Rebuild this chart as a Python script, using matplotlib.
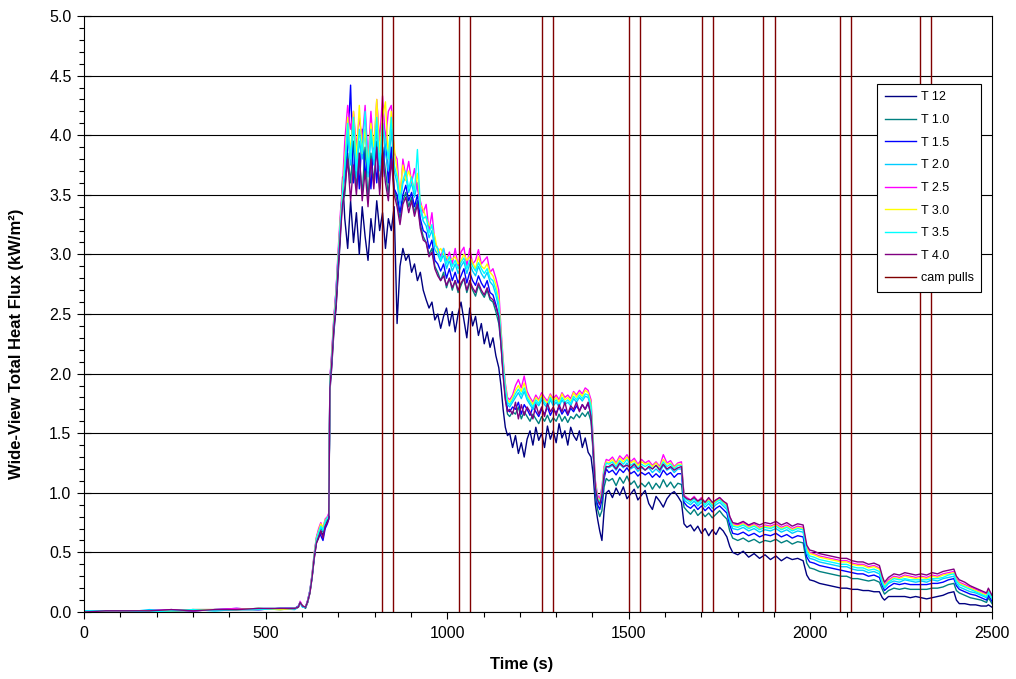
import matplotlib

matplotlib.use("Agg")
import matplotlib.pyplot as plt
from matplotlib.ticker import FormatStrFormatter, MultipleLocator

plt.rcParams["font.family"] = ["Liberation Sans", "DejaVu Sans"]

# sample times (s)
time_s = [
    0, 60, 120, 180, 240, 300, 360, 420, 480, 540, 580,
    590, 595, 602, 610, 616, 622, 628, 634, 640, 646, 652, 658, 664, 670, 674,
    677, 682, 688, 694, 700, 706, 712,
    718, 726, 734, 742, 750, 758, 766, 774, 782, 790, 798, 806, 814, 822, 830, 838, 846, 854,
    862, 870, 878, 886, 894, 902, 910, 918, 926, 934, 942, 950, 958, 966, 974, 982, 990, 998,
    1006, 1014, 1022, 1030, 1038, 1046, 1054, 1062, 1070, 1078, 1086, 1094, 1102, 1110, 1118,
    1126, 1134, 1142,
    1148, 1154, 1160, 1166,
    1172, 1180, 1188, 1196, 1204, 1212, 1220, 1228, 1236, 1244, 1252, 1260, 1268, 1276, 1284,
    1292, 1300, 1308, 1316, 1324, 1332, 1340, 1348, 1356, 1364, 1372, 1380, 1388, 1396,
    1402, 1408, 1414, 1420, 1426, 1432, 1438,
    1445, 1455, 1465, 1475, 1485, 1495, 1505, 1515, 1525, 1535, 1545, 1555, 1565, 1575, 1585,
    1595, 1605, 1615, 1625, 1635, 1645,
    1652, 1660, 1670, 1680, 1690, 1700, 1710, 1720, 1730, 1740, 1750, 1760, 1770,
    1778, 1786, 1800, 1815, 1830, 1845, 1860, 1875, 1890, 1905, 1920, 1935, 1950, 1965, 1980,
    1990, 1998, 2010, 2025, 2040, 2055, 2070, 2085, 2100, 2115, 2130, 2145, 2160, 2175, 2190,
    2198, 2204, 2215, 2230, 2245, 2260, 2275, 2290, 2305, 2320, 2335, 2350, 2365, 2380, 2395,
    2402, 2410, 2425, 2440, 2455, 2470, 2485, 2490, 2500,
]

t12 = [
    0.00, 0.01, 0.00, 0.01, 0.01, 0.02, 0.02, 0.02, 0.02, 0.03, 0.03,
    0.04, 0.08, 0.05, 0.04, 0.08, 0.16, 0.29, 0.45, 0.58, 0.62, 0.68, 0.64, 0.72, 0.76, 0.79,
    1.85, 2.05, 2.35, 2.55, 2.85, 3.15, 3.65,
    3.30, 3.05, 3.45, 3.10, 3.35, 3.00, 3.40, 3.15, 2.95, 3.30, 3.10, 3.45, 3.20, 3.35, 3.05, 3.30,
    3.20, 3.40, 2.42, 2.90, 3.05, 2.95, 3.00, 2.85, 2.92, 2.78, 2.85, 2.70, 2.62, 2.55, 2.60, 2.45,
    2.50, 2.38, 2.48, 2.55, 2.40, 2.52, 2.35, 2.50, 2.60, 2.45, 2.30, 2.55, 2.40, 2.48, 2.32, 2.42,
    2.25, 2.35, 2.22, 2.30, 2.15, 2.05,
    1.90, 1.70, 1.55, 1.48,
    1.50, 1.38, 1.48, 1.33, 1.42, 1.30, 1.45, 1.52, 1.40, 1.55, 1.44, 1.50, 1.38, 1.56, 1.45,
    1.52, 1.42, 1.58, 1.46, 1.52, 1.40, 1.55, 1.48, 1.44, 1.52, 1.38, 1.46, 1.34, 1.30,
    1.15, 0.90, 0.78, 0.68, 0.60, 0.85, 1.00,
    1.02, 0.96, 1.04, 0.98, 1.05, 0.95, 0.99, 1.03, 0.94, 0.98, 1.02, 0.91, 0.86, 0.97, 0.93,
    0.88, 0.95, 0.99, 1.01, 0.97, 0.92,
    0.74, 0.71, 0.73, 0.68, 0.72, 0.66, 0.70, 0.64, 0.69, 0.65, 0.71, 0.68, 0.63,
    0.55, 0.50, 0.48, 0.51, 0.46, 0.49, 0.45, 0.48, 0.44, 0.47, 0.43, 0.46, 0.44, 0.45, 0.43,
    0.31, 0.27, 0.26, 0.24, 0.23, 0.22, 0.21, 0.20, 0.20, 0.19, 0.19, 0.18, 0.18, 0.17, 0.17,
    0.12, 0.10, 0.13, 0.13, 0.13, 0.13, 0.12, 0.13, 0.12, 0.11, 0.12, 0.13, 0.14, 0.16, 0.17,
    0.10, 0.07, 0.07, 0.06, 0.06, 0.05, 0.05, 0.06, 0.04,
]

t10 = [
    0.01, 0.00, 0.01, 0.00, 0.01, 0.01, 0.02, 0.02, 0.03, 0.02, 0.03,
    0.04, 0.07, 0.05, 0.03, 0.09, 0.17, 0.30, 0.47, 0.60, 0.65, 0.71, 0.67, 0.75, 0.78, 0.80,
    1.90, 2.12, 2.40, 2.60, 2.92, 3.22, 3.45,
    3.50, 3.85, 3.60, 3.95, 3.55, 3.80, 3.50, 3.90, 3.45, 3.85, 3.60, 3.95, 3.55, 3.90, 3.70, 3.50,
    3.85, 3.55, 3.45, 3.30, 3.45, 3.52, 3.40, 3.48, 3.35, 3.45, 3.25, 3.15, 3.10, 3.00, 3.05, 2.90,
    2.85, 2.78, 2.85, 2.72, 2.80, 2.70, 2.78, 2.68, 2.74, 2.80, 2.68, 2.76, 2.70, 2.65, 2.74, 2.68,
    2.64, 2.70, 2.62, 2.60, 2.52, 2.42,
    2.25, 2.00, 1.80, 1.66,
    1.64, 1.68, 1.66, 1.72, 1.62, 1.68, 1.64, 1.60, 1.66, 1.62, 1.58, 1.64, 1.60, 1.65, 1.59,
    1.63, 1.60, 1.66, 1.60, 1.64, 1.59, 1.64, 1.62, 1.66, 1.63, 1.67, 1.64, 1.68, 1.60,
    1.32, 0.98, 0.86, 0.80, 0.85, 1.05, 1.12,
    1.10, 1.12, 1.06, 1.13, 1.08, 1.14, 1.07, 1.10, 1.04, 1.08, 1.05, 1.09, 1.03, 1.08, 1.04,
    1.11, 1.05, 1.09, 1.04, 1.08, 1.07,
    0.88, 0.85, 0.82, 0.86, 0.81, 0.84, 0.80, 0.83, 0.79, 0.82, 0.85, 0.81, 0.78,
    0.68, 0.62, 0.60, 0.62, 0.59, 0.61, 0.58, 0.60, 0.59, 0.61, 0.58, 0.60, 0.57, 0.59, 0.58,
    0.41, 0.37, 0.36, 0.34, 0.33, 0.32, 0.31, 0.30, 0.30, 0.28, 0.28, 0.27, 0.26, 0.27, 0.25,
    0.19, 0.15, 0.18, 0.20, 0.19, 0.20, 0.19, 0.19, 0.19, 0.19, 0.20, 0.20, 0.21, 0.23, 0.24,
    0.18, 0.16, 0.14, 0.12, 0.11, 0.10, 0.08, 0.12, 0.07,
]

t15 = [
    0.00, 0.01, 0.01, 0.00, 0.02, 0.01, 0.02, 0.03, 0.02, 0.03, 0.03,
    0.05, 0.08, 0.04, 0.04, 0.10, 0.18, 0.31, 0.48, 0.62, 0.68, 0.64, 0.60, 0.70, 0.74, 0.78,
    1.95, 2.15, 2.45, 2.70, 3.00, 3.30, 3.55,
    3.65, 3.90, 4.42, 3.60, 3.95, 3.55, 4.05, 3.65, 3.85, 3.55, 3.95, 3.60, 3.90, 3.65, 4.00, 3.60,
    3.90, 3.55, 3.50, 3.35, 3.50, 3.58, 3.45, 3.52, 3.40, 3.50, 3.30, 3.20, 3.18, 3.05, 3.12, 2.95,
    2.92, 2.86, 2.92, 2.80, 2.88, 2.78, 2.85, 2.76, 2.82, 2.88, 2.76, 2.85, 2.78, 2.74, 2.82, 2.76,
    2.72, 2.78, 2.68, 2.66, 2.58, 2.48,
    2.28, 2.02, 1.83, 1.70,
    1.68, 1.72, 1.70, 1.76, 1.66, 1.74, 1.70, 1.65, 1.72, 1.68, 1.64, 1.70, 1.66, 1.72, 1.65,
    1.70, 1.67, 1.72, 1.66, 1.70, 1.65, 1.71, 1.68, 1.73, 1.69, 1.74, 1.70, 1.75, 1.66,
    1.35, 1.02, 0.90, 0.86, 0.94, 1.12, 1.20,
    1.17, 1.19, 1.15, 1.20, 1.17, 1.21, 1.16, 1.18, 1.14, 1.17, 1.15, 1.17, 1.13, 1.16, 1.13,
    1.19, 1.15, 1.17, 1.13, 1.16, 1.16,
    0.92, 0.89, 0.87, 0.90, 0.86, 0.89, 0.85, 0.88, 0.84, 0.87, 0.89, 0.86, 0.83,
    0.73, 0.66, 0.65, 0.67, 0.64, 0.66, 0.63, 0.65, 0.64, 0.66, 0.63, 0.65, 0.62, 0.64, 0.63,
    0.46, 0.42, 0.41, 0.39, 0.38, 0.37, 0.36, 0.35, 0.34, 0.33, 0.32, 0.32, 0.30, 0.31, 0.29,
    0.22, 0.18, 0.21, 0.24, 0.23, 0.24, 0.23, 0.23, 0.23, 0.23, 0.24, 0.24, 0.25, 0.27, 0.28,
    0.22, 0.19, 0.17, 0.15, 0.14, 0.12, 0.10, 0.14, 0.09,
]

t20 = [
    0.01, 0.01, 0.00, 0.02, 0.01, 0.02, 0.01, 0.02, 0.03, 0.03, 0.02,
    0.04, 0.08, 0.05, 0.04, 0.09, 0.18, 0.30, 0.48, 0.61, 0.66, 0.72, 0.68, 0.76, 0.79, 0.82,
    1.92, 2.10, 2.42, 2.64, 2.96, 3.26, 3.52,
    3.70, 4.00, 3.75, 4.10, 3.65, 3.95, 3.80, 4.05, 3.65, 4.00, 3.75, 4.05, 3.70, 4.10, 3.85, 3.70,
    4.05, 3.70, 3.60, 3.42, 3.60, 3.65, 3.52, 3.60, 3.48, 3.60, 3.38, 3.28, 3.24, 3.14, 3.20, 3.04,
    3.00, 2.94, 3.00, 2.88, 2.95, 2.86, 2.92, 2.84, 2.90, 2.94, 2.84, 2.92, 2.86, 2.82, 2.90, 2.84,
    2.80, 2.85, 2.77, 2.74, 2.66, 2.55,
    2.30, 2.05, 1.86, 1.74,
    1.72, 1.76, 1.80, 1.84, 1.79, 1.85, 1.78, 1.74, 1.70, 1.76, 1.73, 1.78, 1.74, 1.71, 1.78,
    1.73, 1.76, 1.72, 1.78, 1.74, 1.76, 1.73, 1.79, 1.76, 1.80, 1.77, 1.81, 1.80, 1.71,
    1.38, 1.05, 0.93, 0.90, 0.98, 1.16, 1.22,
    1.21, 1.23, 1.19, 1.24, 1.21, 1.25, 1.20, 1.22, 1.18, 1.21, 1.19, 1.21, 1.17, 1.20, 1.17,
    1.23, 1.19, 1.21, 1.17, 1.20, 1.20,
    0.94, 0.92, 0.90, 0.93, 0.89, 0.92, 0.88, 0.91, 0.87, 0.90, 0.92, 0.89, 0.86,
    0.76, 0.70, 0.69, 0.71, 0.68, 0.70, 0.67, 0.69, 0.68, 0.70, 0.67, 0.69, 0.66, 0.68, 0.67,
    0.49, 0.45, 0.44, 0.42, 0.41, 0.40, 0.39, 0.38, 0.38, 0.36, 0.35, 0.35, 0.33, 0.34, 0.32,
    0.24, 0.20, 0.24, 0.26, 0.25, 0.27, 0.26, 0.25, 0.26, 0.25, 0.27, 0.26, 0.28, 0.29, 0.30,
    0.24, 0.21, 0.19, 0.17, 0.16, 0.14, 0.12, 0.16, 0.11,
]

t25 = [
    0.01, 0.00, 0.01, 0.01, 0.02, 0.01, 0.02, 0.03, 0.02, 0.03, 0.03,
    0.04, 0.09, 0.05, 0.04, 0.10, 0.18, 0.32, 0.50, 0.63, 0.70, 0.75, 0.70, 0.78, 0.80, 0.83,
    1.95, 2.18, 2.48, 2.70, 3.05, 3.35, 3.60,
    3.95, 4.25, 4.05, 4.20, 3.90, 4.15, 3.95, 4.25, 3.80, 4.20, 3.85, 4.30, 3.95, 4.33, 3.95, 4.20,
    4.25, 3.85, 3.80, 3.45, 3.80, 3.65, 3.78, 3.60, 3.72, 3.55, 3.45, 3.35, 3.42, 3.20, 3.35, 3.10,
    3.05, 2.98, 3.05, 2.95, 3.02, 2.92, 3.05, 2.90, 3.02, 3.06, 2.90, 3.05, 2.92, 2.95, 3.04, 2.92,
    2.95, 2.98, 2.85, 2.88, 2.80, 2.70,
    2.38, 2.12, 1.92, 1.80,
    1.78, 1.82, 1.90, 1.95, 1.88, 1.98, 1.85, 1.80, 1.76, 1.82, 1.78, 1.84, 1.80, 1.77, 1.83,
    1.79, 1.82, 1.78, 1.84, 1.80, 1.82, 1.79, 1.85, 1.82, 1.86, 1.83, 1.88, 1.86, 1.78,
    1.45, 1.10, 0.98, 0.95, 1.05, 1.22, 1.28,
    1.27, 1.30, 1.25, 1.31, 1.28, 1.32, 1.26, 1.29, 1.24, 1.28, 1.25, 1.27, 1.23, 1.26, 1.22,
    1.32, 1.25, 1.27, 1.22, 1.25, 1.26,
    0.98, 0.96, 0.94, 0.97, 0.93, 0.96, 0.92, 0.95, 0.91, 0.94, 0.96, 0.93, 0.90,
    0.80, 0.74, 0.73, 0.75, 0.72, 0.74, 0.71, 0.73, 0.72, 0.74, 0.71, 0.73, 0.70, 0.72, 0.71,
    0.54, 0.50, 0.49, 0.47, 0.46, 0.45, 0.44, 0.43, 0.43, 0.41, 0.40, 0.40, 0.38, 0.39, 0.37,
    0.28, 0.23, 0.27, 0.30, 0.29, 0.31, 0.30, 0.29, 0.30, 0.29, 0.31, 0.30, 0.32, 0.33, 0.34,
    0.28, 0.25, 0.23, 0.21, 0.19, 0.17, 0.15, 0.19, 0.13,
]

t30 = [
    0.00, 0.01, 0.01, 0.01, 0.01, 0.02, 0.02, 0.02, 0.03, 0.02, 0.03,
    0.04, 0.08, 0.05, 0.04, 0.09, 0.17, 0.31, 0.49, 0.62, 0.68, 0.74, 0.71, 0.77, 0.79, 0.81,
    1.93, 2.14, 2.45, 2.66, 3.00, 3.30, 3.55,
    3.80, 4.15, 3.85, 4.20, 3.80, 4.25, 3.85, 4.05, 3.75, 4.10, 3.90, 4.30, 3.85, 4.15, 4.28, 3.80,
    4.20, 3.90, 3.70, 3.50, 3.75, 3.62, 3.70, 3.62, 3.55, 3.68, 3.42, 3.38, 3.30, 3.25, 3.22, 3.15,
    3.02, 3.05, 3.00, 2.98, 2.95, 2.96, 2.98, 2.92, 2.95, 3.00, 2.95, 2.98, 2.93, 2.88, 2.98, 2.90,
    2.88, 2.92, 2.85, 2.82, 2.75, 2.62,
    2.35, 2.10, 1.90, 1.78,
    1.76, 1.80, 1.86, 1.90, 1.85, 1.92, 1.82, 1.78, 1.74, 1.80, 1.77, 1.82, 1.78, 1.75, 1.82,
    1.77, 1.80, 1.76, 1.83, 1.78, 1.80, 1.77, 1.84, 1.80, 1.84, 1.81, 1.86, 1.84, 1.75,
    1.42, 1.08, 0.96, 0.93, 1.02, 1.20, 1.26,
    1.25, 1.28, 1.24, 1.29, 1.26, 1.30, 1.25, 1.27, 1.23, 1.26, 1.24, 1.25, 1.22, 1.25, 1.21,
    1.28, 1.24, 1.25, 1.21, 1.24, 1.24,
    0.97, 0.95, 0.93, 0.96, 0.92, 0.95, 0.91, 0.94, 0.90, 0.93, 0.95, 0.92, 0.89,
    0.79, 0.73, 0.72, 0.74, 0.71, 0.73, 0.70, 0.72, 0.71, 0.73, 0.70, 0.72, 0.69, 0.71, 0.70,
    0.53, 0.49, 0.48, 0.46, 0.45, 0.44, 0.43, 0.42, 0.42, 0.40, 0.39, 0.39, 0.37, 0.38, 0.36,
    0.27, 0.22, 0.26, 0.29, 0.28, 0.30, 0.29, 0.28, 0.29, 0.28, 0.30, 0.29, 0.31, 0.32, 0.33,
    0.27, 0.24, 0.22, 0.20, 0.18, 0.16, 0.14, 0.18, 0.12,
]

t35 = [
    0.01, 0.01, 0.01, 0.00, 0.01, 0.02, 0.01, 0.02, 0.02, 0.03, 0.03,
    0.04, 0.08, 0.04, 0.04, 0.09, 0.17, 0.30, 0.48, 0.61, 0.67, 0.72, 0.69, 0.76, 0.79, 0.81,
    1.92, 2.12, 2.42, 2.65, 2.98, 3.28, 3.52,
    3.75, 4.10, 3.80, 4.15, 3.70, 4.05, 3.85, 4.20, 3.70, 4.05, 3.80, 4.15, 3.75, 4.10, 3.95, 3.80,
    4.15, 3.75, 3.65, 3.45, 3.62, 3.70, 3.55, 3.65, 3.52, 3.88, 3.40, 3.30, 3.32, 3.18, 3.25, 3.08,
    3.05, 2.95, 3.05, 2.92, 2.98, 2.90, 2.95, 2.88, 2.93, 2.97, 2.88, 2.95, 2.90, 2.86, 2.93, 2.88,
    2.84, 2.88, 2.80, 2.78, 2.70, 2.58,
    2.32, 2.08, 1.88, 1.76,
    1.74, 1.78, 1.83, 1.87, 1.82, 1.88, 1.80, 1.76, 1.72, 1.78, 1.75, 1.80, 1.76, 1.73, 1.80,
    1.75, 1.78, 1.74, 1.80, 1.76, 1.78, 1.75, 1.81, 1.78, 1.82, 1.79, 1.83, 1.82, 1.73,
    1.40, 1.06, 0.95, 0.92, 1.00, 1.18, 1.25,
    1.24, 1.26, 1.22, 1.27, 1.24, 1.28, 1.23, 1.25, 1.21, 1.24, 1.22, 1.24, 1.20, 1.23, 1.20,
    1.26, 1.22, 1.24, 1.20, 1.23, 1.23,
    0.96, 0.94, 0.92, 0.95, 0.91, 0.94, 0.90, 0.93, 0.89, 0.92, 0.94, 0.91, 0.88,
    0.78, 0.72, 0.71, 0.73, 0.70, 0.72, 0.69, 0.71, 0.70, 0.72, 0.69, 0.71, 0.68, 0.70, 0.69,
    0.51, 0.47, 0.46, 0.44, 0.43, 0.42, 0.41, 0.40, 0.40, 0.38, 0.37, 0.37, 0.35, 0.36, 0.34,
    0.25, 0.21, 0.25, 0.28, 0.27, 0.28, 0.27, 0.27, 0.27, 0.27, 0.28, 0.28, 0.29, 0.31, 0.32,
    0.26, 0.23, 0.21, 0.19, 0.17, 0.15, 0.13, 0.17, 0.12,
]

t40 = [
    0.00, 0.01, 0.01, 0.01, 0.02, 0.01, 0.02, 0.02, 0.03, 0.03, 0.03,
    0.04, 0.08, 0.05, 0.04, 0.09, 0.16, 0.29, 0.46, 0.58, 0.63, 0.68, 0.62, 0.72, 0.75, 0.78,
    1.88, 2.08, 2.38, 2.58, 2.90, 3.18, 3.42,
    3.55, 3.80, 3.45, 3.75, 3.50, 3.85, 3.45, 3.70, 3.40, 3.80, 3.55, 3.90, 3.50, 3.85, 3.60, 3.45,
    3.80, 3.50, 3.40, 3.25, 3.42, 3.48, 3.35, 3.45, 3.32, 3.42, 3.22, 3.12, 3.10, 2.98, 3.02, 2.88,
    2.82, 2.78, 2.82, 2.74, 2.80, 2.72, 2.78, 2.70, 2.76, 2.80, 2.70, 2.78, 2.72, 2.68, 2.76, 2.70,
    2.66, 2.72, 2.64, 2.62, 2.56, 2.48,
    2.25, 1.98, 1.78, 1.68,
    1.70, 1.66, 1.76, 1.62, 1.74, 1.65, 1.72, 1.68, 1.62, 1.74, 1.66, 1.72, 1.64, 1.75, 1.68,
    1.72, 1.65, 1.74, 1.68, 1.76, 1.66, 1.73, 1.70, 1.76, 1.68, 1.74, 1.70, 1.76, 1.64,
    1.36, 1.04, 0.94, 0.90, 0.98, 1.15, 1.22,
    1.22, 1.24, 1.20, 1.25, 1.22, 1.23, 1.21, 1.24, 1.20, 1.22, 1.19, 1.22, 1.20, 1.23, 1.19,
    1.24, 1.20, 1.22, 1.19, 1.21, 1.22,
    0.97, 0.95, 0.94, 0.96, 0.93, 0.95, 0.92, 0.96, 0.92, 0.94, 0.96, 0.93, 0.91,
    0.80, 0.75, 0.74, 0.76, 0.73, 0.75, 0.73, 0.75, 0.74, 0.76, 0.73, 0.75, 0.72, 0.74, 0.73,
    0.56, 0.52, 0.51, 0.49, 0.48, 0.47, 0.46, 0.45, 0.45, 0.43, 0.42, 0.42, 0.40, 0.41, 0.39,
    0.30, 0.25, 0.29, 0.32, 0.31, 0.33, 0.32, 0.31, 0.32, 0.31, 0.33, 0.32, 0.34, 0.35, 0.36,
    0.30, 0.27, 0.25, 0.22, 0.20, 0.18, 0.16, 0.20, 0.14,
]

series_labels = ["T 12", "T 1.0", "T 1.5", "T 2.0", "T 2.5", "T 3.0", "T 3.5", "T 4.0"]
series_values = [t12, t10, t15, t20, t25, t30, t35, t40]
series_colors = ["#000080", "#008080", "#0000FF", "#00CCFF", "#FF00FF", "#FFFF00", "#00FFFF", "#800080"]

# camera pull times (s)
cam_pulls = [820, 851, 1032, 1062, 1261, 1291, 1500, 1531, 1701, 1732, 1870, 1902, 2081, 2112, 2302, 2332]

for lab, vals in zip(series_labels, series_values):
    assert len(vals) == len(time_s), (lab, len(vals), len(time_s))

fig = plt.figure(figsize=(10.16, 6.79), dpi=100)
ax = fig.add_axes([84 / 1016, 67 / 679, 908 / 1016, 596 / 679])

for lab, vals, col in zip(series_labels, series_values, series_colors):
    ax.plot(time_s, vals, color=col, lw=1.0, label=lab)
for i, t in enumerate(cam_pulls):
    ax.axvline(t, color="#800000", lw=1.0, label="cam pulls" if i == 0 else None)

ax.set_xlim(0, 2500)
ax.set_ylim(0, 5)
ax.xaxis.set_major_locator(MultipleLocator(500))
ax.xaxis.set_minor_locator(MultipleLocator(100))
ax.yaxis.set_major_locator(MultipleLocator(0.5))
ax.yaxis.set_minor_locator(MultipleLocator(0.1))
ax.yaxis.set_major_formatter(FormatStrFormatter("%.1f"))
ax.tick_params(which="both", direction="out", labelsize=11.5, width=0.8)
ax.tick_params(which="major", length=5, pad=5)
ax.tick_params(axis="y", which="major", direction="inout", length=10, pad=4)
ax.tick_params(which="minor", length=3.5)
ax.grid(axis="y", which="major", color="black", lw=0.8)
ax.set_axisbelow(True)
for sp in ax.spines.values():
    sp.set_linewidth(0.8)

ax.set_xlabel("Time (s)", fontsize=12, fontweight="bold")
ax.set_ylabel("Wide-View Total Heat Flux (kW/m²)", fontsize=12, fontweight="bold")
ax.xaxis.set_label_coords(0.482, -0.075)
ax.yaxis.set_label_coords(-0.066, 0.45)

leg = ax.legend(loc="upper right", bbox_to_anchor=(0.988, 0.886), fontsize=9, fancybox=False,
                edgecolor="black", framealpha=1, handlelength=2.5, handletextpad=0.35,
                labelspacing=0.85, borderpad=0.6, borderaxespad=0)
leg.get_frame().set_linewidth(0.8)

fig.savefig("out.png", dpi=100)
